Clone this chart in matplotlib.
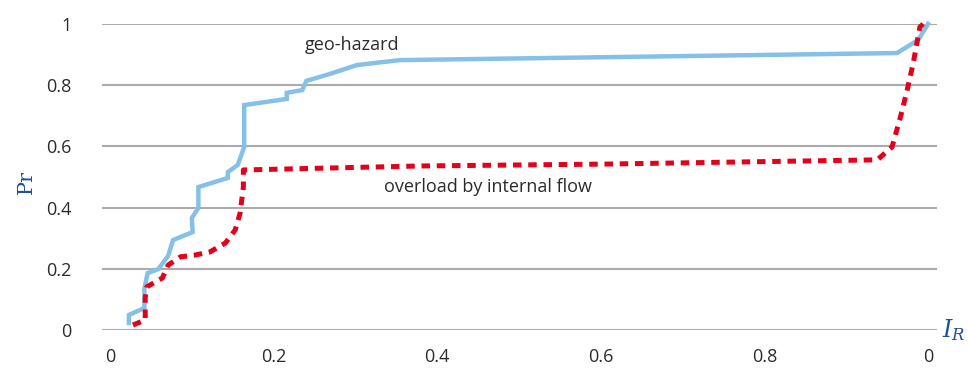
import numpy as np
import matplotlib.pyplot as plt

plt.rcParams['font.family'] = ['Open Sans', 'DejaVu Sans']

# geo-hazard curve
geo_x = [0.023, 0.023, 0.042, 0.042, 0.046, 0.059, 0.071, 0.077, 0.101, 0.100,
         0.108, 0.108, 0.144, 0.144, 0.156, 0.164, 0.164, 0.216, 0.216, 0.235,
         0.240, 0.269, 0.302, 0.355, 0.962, 0.988, 1.0]
geo_y = [0.023, 0.049, 0.072, 0.137, 0.186, 0.199, 0.242, 0.294, 0.320, 0.366,
         0.399, 0.467, 0.497, 0.516, 0.539, 0.598, 0.735, 0.755, 0.775, 0.784,
         0.814, 0.837, 0.866, 0.882, 0.905, 0.948, 1.0]

# overload by internal flow curve
flow_x = [0.028, 0.043, 0.043, 0.045, 0.064, 0.071, 0.086, 0.104, 0.122, 0.141,
          0.153, 0.159, 0.163, 0.163, 0.379, 0.600, 0.938, 0.956, 0.966, 0.974,
          0.982, 0.990, 0.994]
flow_y = [0.016, 0.033, 0.105, 0.141, 0.170, 0.212, 0.239, 0.245, 0.255, 0.284,
          0.327, 0.382, 0.467, 0.523, 0.536, 0.542, 0.556, 0.598, 0.693, 0.778,
          0.873, 0.990, 1.0]

xticks = [0, 0.2, 0.4, 0.6, 0.8, 1.0]
xlabels = ['0', '0.2', '0.4', '0.6', '0.8', '0']
yticks = [0, 0.2, 0.4, 0.6, 0.8, 1.0]
ylabels = ['0', '0.2', '0.4', '0.6', '0.8', '1']

fig = plt.figure(figsize=(9.68, 3.69), dpi=100)
ax = fig.add_axes([0.1054, 0.1057, 0.8626, 0.8293])

ax.plot(geo_x, geo_y, color='#85C0E9', lw=3.2, solid_joinstyle='miter',
        clip_on=False, zorder=3)
ax.plot(flow_x, flow_y, color='#E3001B', lw=3.6, dashes=(1.7, 1.35),
        clip_on=False, zorder=4)

ax.set_xlim(-0.0098, 1.011)
ax.set_ylim(0, 1)
ax.set_xticks(xticks)
ax.set_xticklabels(xlabels)
ax.set_yticks(yticks)
ax.set_yticklabels(ylabels)
ax.tick_params(length=0, labelsize=13, colors='#2b2b2b')
ax.tick_params(axis='x', pad=13)
ax.tick_params(axis='y', pad=22)

ax.grid(axis='y', color='#ABABAB', lw=1.5)
ax.set_axisbelow(True)
for s in ax.spines.values():
    s.set_visible(False)

ax.text(0.238, 0.932, 'geo-hazard', fontsize=13, color='#2b2b2b',
        ha='left', va='center')
ax.text(0.335, 0.467, 'overload by internal flow', fontsize=13,
        color='#2b2b2b', ha='left', va='center')

# axis names in serif, blue
fig.text(0.027, 0.507, 'Pr', family='DejaVu Serif', fontsize=15,
         color='#1F4E9C', rotation=90, ha='center', va='center')
fig.text(0.973, 0.105, r'$I_R$', fontsize=17, color='#1F4E9C',
         ha='left', va='center', math_fontfamily='dejavuserif')

fig.savefig('out.png', dpi=100)
